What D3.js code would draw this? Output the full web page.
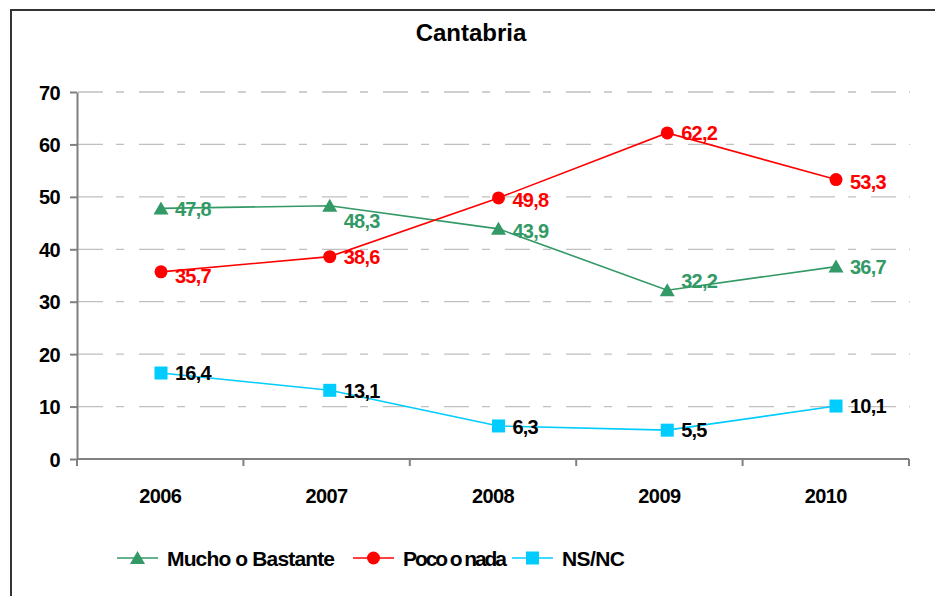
<!DOCTYPE html>
<meta charset="utf-8">
<style>
body {
  margin: 0;
  background: #fff;
}
svg {
  display: block;
  font-family: "Liberation Sans", Arial, sans-serif;
  font-weight: bold;
}
.grid line {
  stroke: #c0c0c0;
  stroke-width: 1.3px;
  stroke-dasharray: 25,13,8,15;
}
.axis path, .axis line {
  stroke: #808080;
  stroke-width: 2px;
}
.axis text {
  font-size: 20px;
  letter-spacing: -0.6px;
  fill: #000;
}
</style>
<body>
<script src="https://d3js.org/d3.v7.min.js"></script>
<script>
var width = 935,
    height = 596;

var years = ["2006", "2007", "2008", "2009", "2010"];
var mucho = [47.8, 48.3, 43.9, 32.2, 36.7];
var poco = [35.7, 38.6, 49.8, 62.2, 53.3];
var nsnc = [16.4, 13.1, 6.3, 5.5, 10.1];
var yTicks = [0, 10, 20, 30, 40, 50, 60, 70];

var series = [
  {name: "Mucho o Bastante", values: mucho, color: "#339966", text: "#339966", shape: "triangle"},
  {name: "Poco o nada", values: poco, color: "#ff0000", text: "#ff0000", shape: "circle"},
  {name: "NS/NC", values: nsnc, color: "#00ccff", text: "#000", shape: "square"}
];

// small nudges so labels don't sit on the lines
var labelDy = [
  [0, 15, 2, -9, 0],
  [4, 0, 2, 0, 2],
  [0, 0, 1, 0, 0]
];

var svg = d3.select("body").append("svg")
  .attr("width", width)
  .attr("height", height);

svg.append("rect")
  .attr("x", 11).attr("y", 10)
  .attr("width", 950).attr("height", 620)
  .attr("fill", "none")
  .attr("stroke", "#333")
  .attr("stroke-width", 2);

svg.append("text")
  .attr("x", 471).attr("y", 41)
  .attr("text-anchor", "middle")
  .style("font-size", "24px")
  .text("Cantabria");

// category axis (ticks / labels) and the marker positions
var xAxisScale = d3.scaleBand().domain(years).range([77, 909]);
var x = d3.scalePoint().domain(years).range([161, 836]);
var y = d3.scaleLinear().domain([0, 70]).range([459, 92]);

svg.append("g")
  .attr("class", "grid")
  .selectAll("line")
  .data(yTicks.slice(1))
  .enter().append("line")
    .attr("x1", 78).attr("x2", 910)
    .attr("y1", function(d) { return y(d); })
    .attr("y2", function(d) { return y(d); });

svg.append("g")
  .attr("class", "axis")
  .attr("transform", "translate(77,0)")
  .call(d3.axisLeft(y).tickValues(yTicks).tickSize(7).tickSizeOuter(0).tickPadding(10))
  .call(function(g) { g.selectAll("text").attr("dy", "0.35em"); });

var xAxis = svg.append("g")
  .attr("class", "axis")
  .attr("transform", "translate(0,459)");
xAxis.append("line")
  .attr("x1", 77).attr("x2", 909);
xAxis.selectAll(".tk")
  .data(d3.range(years.length + 1))
  .enter().append("line")
    .attr("class", "tk")
    .attr("x1", function(i) { return 77 + i * xAxisScale.step(); })
    .attr("x2", function(i) { return 77 + i * xAxisScale.step(); })
    .attr("y1", 0).attr("y2", 7);
xAxis.selectAll("text")
  .data(years)
  .enter().append("text")
    .attr("x", function(d) { return xAxisScale(d) + xAxisScale.bandwidth() / 2; })
    .attr("y", 44)
    .attr("text-anchor", "middle")
    .text(function(d) { return d; });

function cx(i) { return x(years[i]); }

function drawMarker(g, shape, color, px, py) {
  if (shape === "triangle") {
    g.append("path")
      .attr("d", "M" + px + "," + (py - 7) + "L" + (px + 7.5) + "," + (py + 6) + "L" + (px - 7.5) + "," + (py + 6) + "Z")
      .attr("fill", color);
  } else if (shape === "circle") {
    g.append("circle").attr("cx", px).attr("cy", py).attr("r", 6.5).attr("fill", color);
  } else {
    g.append("rect").attr("x", px - 6.5).attr("y", py - 6.5)
      .attr("width", 13).attr("height", 13).attr("fill", color);
  }
}

var line = d3.line()
  .x(function(d, i) { return cx(i); })
  .y(function(d) { return y(d); });

series.forEach(function(s, si) {
  var g = svg.append("g");
  g.append("path")
    .datum(s.values)
    .attr("d", line)
    .attr("fill", "none")
    .attr("stroke", s.color)
    .attr("stroke-width", 1.6);
  s.values.forEach(function(v, i) {
    drawMarker(g, s.shape, s.color, cx(i), y(v));
  });
  g.selectAll("text")
    .data(s.values)
    .enter().append("text")
      .attr("x", function(d, i) { return cx(i) + 14; })
      .attr("y", function(d, i) { return y(d) + labelDy[si][i]; })
      .attr("dy", "0.36em")
      .attr("fill", s.text)
      .style("font-size", "20px")
      .style("letter-spacing", "-0.8px")
      .text(function(d) { return String(d).replace(".", ","); });
});

// legend
var legendX = [117, 353, 512];
var legendW = [168, 104, 63];
var legend = svg.append("g");
series.forEach(function(s, i) {
  var lx = legendX[i];
  legend.append("line")
    .attr("x1", lx).attr("x2", lx + 41)
    .attr("y1", 558).attr("y2", 558)
    .attr("stroke", s.color).attr("stroke-width", 1.6);
  drawMarker(legend, s.shape, s.color, lx + 20.5, 558);
  legend.append("text")
    .attr("x", lx + 50).attr("y", 566)
    .attr("textLength", legendW[i])
    .attr("lengthAdjust", "spacing")
    .style("font-size", "21px")
    .text(s.name);
});
</script>
</body>
